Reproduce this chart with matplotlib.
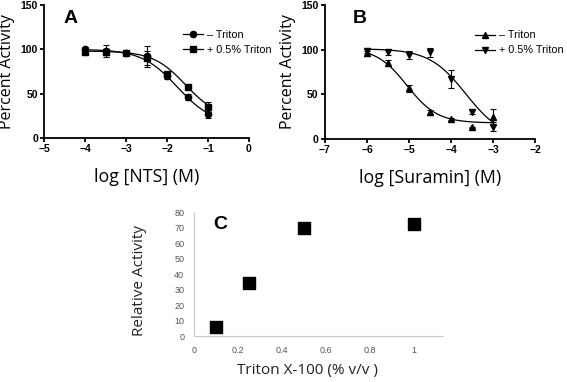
import numpy as np
import matplotlib
matplotlib.use("Agg")
import matplotlib.pyplot as plt

# --- Panel A: NTS dose response ---
nts_logc = [-4, -3.5, -3, -2.5, -2, -1.5, -1]
nts_minus = [100, 98, 96, 92, 70, 46, 27]
nts_minus_err = [3, 7, 2, 12, 3, 3, 4]
nts_plus = [97, 97, 96, 90, 72, 57, 35]
nts_plus_err = [4, 3, 1, 8, 2, 2, 6]
# fitted curves: top, bottom, logIC50, hill
nts_fit_minus = (100, 15, -1.75, 1.0)
nts_fit_plus = (98, 22, -1.55, 1.1)

# --- Panel B: Suramin dose response ---
sur_logc = [-6, -5.5, -5, -4.5, -4, -3.5, -3]
sur_minus = [96, 85, 57, 30, 22, 13, 25]
sur_minus_err = [3, 3, 4, 3, 1, 1, 9]
sur_plus = [99, 97, 94, 97, 67, 30, 14]
sur_plus_err = [3, 3, 4, 5, 10, 2, 5]
sur_fit_minus = (102, 18, -5.05, 1.2)
sur_fit_plus = (101, 0, -3.65, 1.0)

# --- Panel C: Triton titration ---
triton_pct = [0.1, 0.25, 0.5, 1.0]
rel_activity = [6, 34, 70, 72]


def logistic(x, p):
    top, bottom, lic50, hill = p
    return bottom + (top - bottom) / (1 + 10 ** ((x - lic50) * hill))


plt.rcParams['font.family'] = ['Liberation Sans', 'DejaVu Sans']
fig = plt.figure(figsize=(5.67, 3.82), dpi=100)

xlabel_font = dict(family='Open Sans', size=12.8)
ylabel_font = dict(family='Open Sans', size=11.5)
err_kw = dict(color='black', ms=4.5, capsize=2.5, elinewidth=0.8, capthick=0.8)


def prism_axes(ax):
    for s in ['top', 'right']:
        ax.spines[s].set_visible(False)
    for s in ['left', 'bottom']:
        ax.spines[s].set_linewidth(1.3)
    ax.tick_params(width=1.3, length=3, labelsize=7.5, pad=1.5)
    for lab in ax.get_xticklabels() + ax.get_yticklabels():
        lab.set_fontweight('bold')


def dose_legend(ax, anchor):
    ax.legend(loc='upper left', bbox_to_anchor=anchor, frameon=False,
              fontsize=7.8, handlelength=1.8, handletextpad=0.4,
              labelspacing=0.45, borderpad=0, borderaxespad=0)


# Panel A
axA = fig.add_axes([0.078, 0.639, 0.361, 0.348])
xs = np.linspace(-4, -1, 200)
axA.plot(xs, logistic(xs, nts_fit_minus), color='black', lw=0.9)
axA.plot(xs, logistic(xs, nts_fit_plus), color='black', lw=0.9)
axA.errorbar(nts_logc, nts_minus, yerr=nts_minus_err, fmt='o', **err_kw)
axA.errorbar(nts_logc, nts_plus, yerr=nts_plus_err, fmt='s', **err_kw)
axA.plot([], [], '-o', color='black', ms=4.5, lw=0.9, label='\u2013 Triton')
axA.plot([], [], '-s', color='black', ms=4.5, lw=0.9, label='+ 0.5% Triton')
axA.set_xlim(-5, 0)
axA.set_ylim(0, 150)
axA.set_xticks([-5, -4, -3, -2, -1, 0])
axA.set_yticks([0, 50, 100, 150])
prism_axes(axA)
axA.set_xlabel('log [NTS] (M)', **xlabel_font, labelpad=10)
axA.set_ylabel('Percent Activity', **ylabel_font, labelpad=4)
axA.text(0.128, 0.9, 'A', transform=axA.transAxes, fontsize=14, fontweight='bold',
         ha='center', va='center')
dose_legend(axA, (0.68, 0.81))

# Panel B
axB = fig.add_axes([0.573, 0.636, 0.371, 0.351])
xs = np.linspace(-6, -3, 200)
axB.plot(xs, logistic(xs, sur_fit_minus), color='black', lw=0.9)
axB.plot(xs, logistic(xs, sur_fit_plus), color='black', lw=0.9)
axB.errorbar(sur_logc, sur_minus, yerr=sur_minus_err, fmt='^', **err_kw)
axB.errorbar(sur_logc, sur_plus, yerr=sur_plus_err, fmt='v', **err_kw)
axB.plot([], [], '-^', color='black', ms=4.5, lw=0.9, label='\u2013 Triton')
axB.plot([], [], '-v', color='black', ms=4.5, lw=0.9, label='+ 0.5% Triton')
axB.set_xlim(-7, -2)
axB.set_ylim(0, 150)
axB.set_xticks([-7, -6, -5, -4, -3, -2])
axB.set_yticks([0, 50, 100, 150])
prism_axes(axB)
axB.set_xlabel('log [Suramin] (M)', **xlabel_font, labelpad=10)
axB.set_ylabel('Percent Activity', **ylabel_font, labelpad=4)
axB.text(0.167, 0.9, 'B', transform=axB.transAxes, fontsize=14, fontweight='bold',
         ha='center', va='center')
dose_legend(axB, (0.715, 0.81))

# Panel C (spreadsheet style)
axC = fig.add_axes([0.342, 0.120, 0.439, 0.325])
axC.scatter(triton_pct, rel_activity, marker='s', s=65, color='black', zorder=3)
axC.set_xlim(0, 1.13)
axC.set_ylim(0, 80)
axC.set_xticks([0, 0.2, 0.4, 0.6, 0.8, 1])
axC.set_xticklabels(['0', '0.2', '0.4', '0.6', '0.8', '1'])
axC.set_yticks(range(0, 81, 10))
for s in ['top', 'right']:
    axC.spines[s].set_visible(False)
for s in ['left', 'bottom']:
    axC.spines[s].set_color('#c8c8c8')
    axC.spines[s].set_linewidth(0.8)
axC.tick_params(length=0, labelsize=6.5, labelcolor='#555555', pad=7)
axC.set_xlabel('Triton X-100 (% v/v )', family='Open Sans', size=11,
               color='#222222')
axC.xaxis.set_label_coords(0.455, -0.215)
axC.set_ylabel('Relative Activity', family='Open Sans', size=11,
               color='#222222')
axC.yaxis.set_label_coords(-0.19, 0.45)
axC.text(0.105, 0.9, 'C', transform=axC.transAxes, fontsize=14, fontweight='bold',
         ha='center', va='center')

fig.savefig('out.png', dpi=100)
